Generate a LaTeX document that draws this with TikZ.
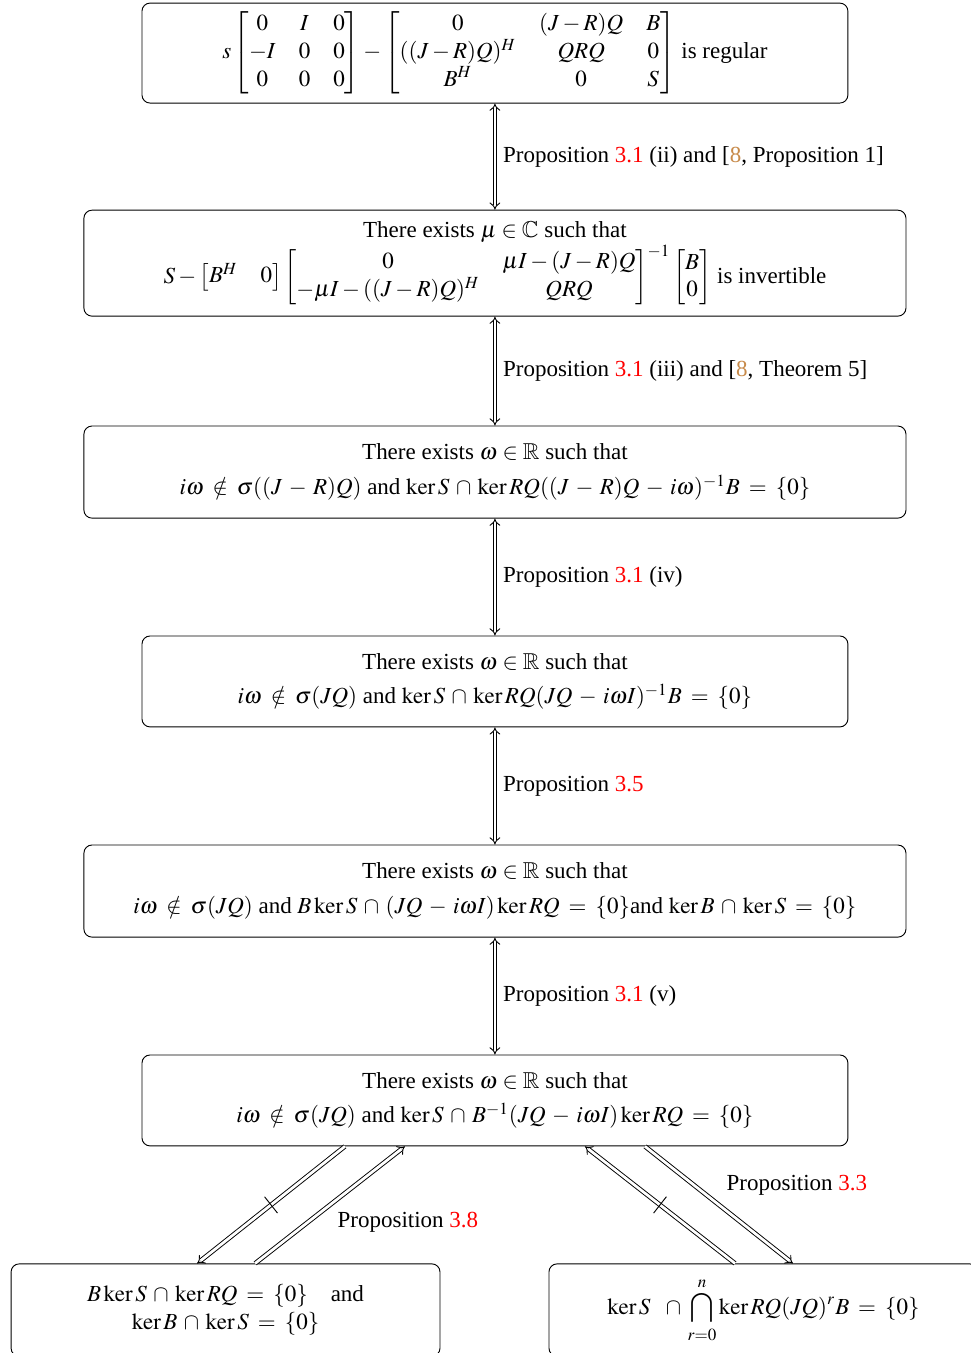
\documentclass[tikz,border=0pt]{standalone}
\usepackage{amsmath}
\usepackage{mathptmx}
\usepackage{amssymb}
\usepackage[no-math]{fontspec}
\setmainfont{Liberation Serif}
\usetikzlibrary{arrows.meta}
\definecolor{refcol}{rgb}{1.0,0.0,0.0}
\definecolor{citecol}{rgb}{0.78,0.54,0.29}
\newcommand\wideskips{\thickmuskip=7mu plus 5mu\medmuskip=5mu plus 2mu minus 2mu}

\begin{document}
\begin{tikzpicture}[line join=bevel,
  cond/.style={draw, rounded corners=3.5bp, align=center, inner sep=2bp},
  impl/.style={double, double distance=1.2bp, -{Implies[scale=2.4]}},
  equiv/.style={double, double distance=1.2bp, {Implies[scale=2.4]}-{Implies[scale=2.4]}},
  notmark/.style={sloped, inner sep=0pt}]
  \pgfsetlinewidth{0.4bp}
  \useasboundingbox (0bp,0bp) rectangle (420.6bp,586.1bp);
  % Node: pencil
  \node[cond, minimum width=305.8bp, minimum height=43.3bp] (pencil) at (214.4bp,563.1bp)
    {$s\begin{bmatrix}0&I&0\\-I&0&0\\0&0&0\end{bmatrix}-\begin{bmatrix}0&(J-R)Q&B\\((J-R)Q)^H&QRQ&0\\B^H&0&S\end{bmatrix}$ is regular};
  % Node: schur
  \node[cond, minimum width=356.1bp, minimum height=45.9bp] (schur) at (214.4bp,472.1bp)
    {There exists $\mu\in\mathbb{C}$ such that\\
     $S-\begin{bmatrix}B^H&0\end{bmatrix}\begin{bmatrix}0&\mu I-(J-R)Q\\-\mu I-((J-R)Q)^H&QRQ\end{bmatrix}^{-1}\begin{bmatrix}B\\0\end{bmatrix}$ is invertible};
  % Node: freq
  \node[cond, minimum width=356.1bp, minimum height=39.9bp] (freq) at (214.4bp,381.6bp)
    {There exists $\omega\in\mathbb{R}$ such that\\[3bp]\wideskips
     $i\omega\notin\sigma((J-R)Q)$ and $\ker S\cap\ker RQ((J-R)Q-i\omega)^{-1}B=\{0\}$};
  % Node: jq
  \node[cond, minimum width=305.8bp, minimum height=39.4bp] (jq) at (214.4bp,290.9bp)
    {There exists $\omega\in\mathbb{R}$ such that\\[3bp]\wideskips
     $i\omega\notin\sigma(JQ)$ and $\ker S\cap\ker RQ(JQ-i\omega I)^{-1}B=\{0\}$};
  % Node: split
  \node[cond, minimum width=356.1bp, minimum height=39.9bp] (split) at (214.4bp,200.1bp)
    {There exists $\omega\in\mathbb{R}$ such that\\[3bp]\wideskips
     $i\omega\notin\sigma(JQ)$ and $B\ker S\cap(JQ-i\omega I)\ker RQ=\{0\}$and $\ker B\cap\ker S=\{0\}$};
  % Node: preim
  \node[cond, minimum width=305.8bp, minimum height=39.4bp] (preim) at (214.4bp,109.4bp)
    {There exists $\omega\in\mathbb{R}$ such that\\[3bp]\wideskips
     $i\omega\notin\sigma(JQ)$ and $\ker S\cap B^{-1}(JQ-i\omega I)\ker RQ=\{0\}$};
  % Node: kerl
  \node[cond, minimum width=185.8bp, minimum height=40bp] (kerl) at (97.7bp,18.6bp)
    {\wideskips$B\ker S\cap\ker RQ=\{0\}$\quad and\\
     \wideskips$\ker B\cap\ker S=\{0\}$};
  % Node: kerr
  \node[cond, minimum width=185.8bp, minimum height=40bp] (kerr) at (330.7bp,18.6bp)
    {\wideskips$\ker S\;\cap\displaystyle\bigcap_{r=0}^{n}\ker RQ(JQ)^rB=\{0\}$};
  % Edge: pencil <-> schur
  \draw [equiv] (pencil) -- (schur)
    node[midway,right] {Proposition \textcolor{refcol}{3.1} (ii) and [\textcolor{citecol}{8}, Proposition 1]};
  % Edge: schur <-> freq
  \draw [equiv] (schur) -- (freq)
    node[midway,right] {Proposition \textcolor{refcol}{3.1} (iii) and [\textcolor{citecol}{8}, Theorem 5]};
  % Edge: freq <-> jq
  \draw [equiv] (freq) -- (jq)
    node[midway,right] {Proposition \textcolor{refcol}{3.1} (iv)};
  % Edge: jq <-> split
  \draw [equiv] (jq) -- (split)
    node[midway,right] {Proposition \textcolor{refcol}{3.5}};
  % Edge: split <-> preim
  \draw [equiv] (split) -- (preim)
    node[midway,right] {Proposition \textcolor{refcol}{3.1} (v)};
  % Edge: preim -> kerl (does not hold)
  \draw [impl] ([xshift=-65bp]preim.south) -- ([xshift=-12.3bp]kerl.north)
    node[notmark, midway] {\rule[-4.5bp]{0.4bp}{9bp}};
  % Edge: kerl -> preim
  \draw [impl] ([xshift=12.8bp]kerl.north) -- ([xshift=-39bp]preim.south);
  \draw (176.7bp,56.7bp) node {Proposition \textcolor{refcol}{3.8}};
  % Edge: kerr -> preim (does not hold)
  \draw [impl] ([xshift=-12.3bp]kerr.north) -- ([xshift=39bp]preim.south)
    node[notmark, midway] {\rule[-4.5bp]{0.4bp}{9bp}};
  % Edge: preim -> kerr
  \draw [impl] ([xshift=65bp]preim.south) -- ([xshift=12.8bp]kerr.north);
  \draw (345.2bp,72.8bp) node {Proposition \textcolor{refcol}{3.3}};
%
\end{tikzpicture}
\end{document}
